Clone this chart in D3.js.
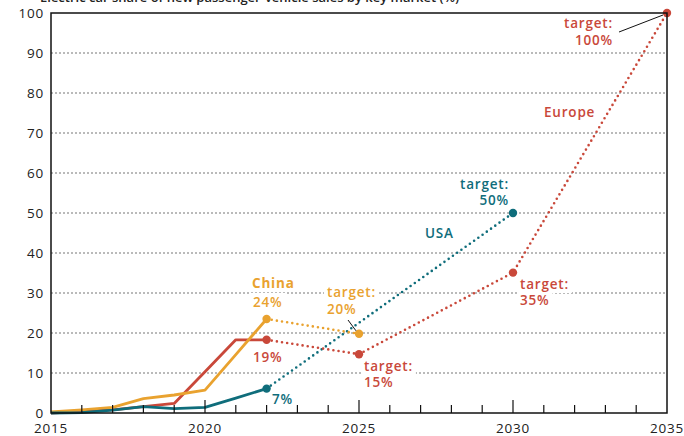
<!DOCTYPE html>
<html>
<head>
<meta charset="utf-8">
<script src="https://d3js.org/d3.v7.min.js"></script>
<style>
    body { margin: 0; background: #fff; }
    svg { display: block; font-family: 'Open Sans', sans-serif; }
</style>
</head>
<body>
<div id="chart"></div>
<script>
// actual sales shares, 2015-2022
var years  = [2015, 2016, 2017, 2018, 2019, 2020, 2021, 2022];
var china  = [0.3, 0.8, 1.4, 3.6, 4.5, 5.7, 14.6, 23.5];
var europe = [0, 0.4, 0.8, 1.6, 2.4, 10.3, 18.3, 18.3];
var usa    = [0, 0.1, 0.7, 1.6, 1.1, 1.4, 3.7, 6.1];

// targets (dotted)
var chinaTargetYears  = [2022, 2025];
var chinaTargetVals   = [23.5, 19.8];
var europeTargetYears = [2022, 2025, 2030, 2035];
var europeTargetVals  = [18.3, 14.7, 35.1, 100];
var usaTargetYears    = [2022, 2030];
var usaTargetVals     = [6.1, 50];

var yTicks = [0, 10, 20, 30, 40, 50, 60, 70, 80, 90, 100];
var xTicks = [2015, 2020, 2025, 2030, 2035];

var colors = { china: "#e9a22f", europe: "#c9483a", usa: "#0f6d7b" };

var width = 684, height = 436;
var svg = d3.select("#chart").append("svg")
    .attr("width", width)
    .attr("height", height);

var x = d3.scaleLinear().domain([2015, 2035]).range([51, 667]);
var y = d3.scaleLinear().domain([0, 100]).range([413, 13]);

//title (cut off at the top)
svg.append("text")
    .attr("x", 40)
    .attr("y", 1.5)
    .style("font-size", "13px")
    .style("font-weight", 600)
    .style("fill", "#222")
    .text("Electric car share of new passenger-vehicle sales by key market (%)");

//gridlines
svg.selectAll(".grid")
    .data(yTicks.filter(function(d) { return d > 0 && d < 100; }))
    .enter().append("line")
    .attr("x1", x(2015)).attr("x2", x(2035))
    .attr("y1", function(d) { return y(d); })
    .attr("y2", function(d) { return y(d); })
    .style("stroke", "#777")
    .style("stroke-width", 1.2)
    .style("stroke-dasharray", "2,2");

//y labels
svg.selectAll(".ylab")
    .data(yTicks)
    .enter().append("text")
    .attr("x", 44)
    .attr("y", function(d) { return y(d) + 5; })
    .attr("text-anchor", "end")
    .style("font-size", "13.5px")
    .style("letter-spacing", "0.8px")
    .style("fill", "#222")
    .text(function(d) { return d; });

//x labels
svg.selectAll(".xlab")
    .data(xTicks)
    .enter().append("text")
    .attr("x", function(d) { return x(d); })
    .attr("y", 433)
    .attr("text-anchor", "middle")
    .style("font-size", "13.5px")
    .style("letter-spacing", "0.8px")
    .style("fill", "#222")
    .text(function(d) { return d; });

//labels: [text, color, x, y, anchor, weight]
var labels = [
    ["China", colors.china, 252, 288, "start", 700],
    ["24%", colors.china, 253, 307, "start", 600],
    ["target:", colors.china, 327, 297, "start", 600],
    ["20%", colors.china, 327, 314, "start", 600],
    ["19%", colors.europe, 253, 362, "start", 600],
    ["target:", colors.europe, 364, 371, "start", 600],
    ["15%", colors.europe, 364, 387, "start", 600],
    ["7%", colors.usa, 272, 404, "start", 600],
    ["USA", colors.usa, 425, 238, "start", 600],
    ["target:", colors.usa, 509, 189, "end", 600],
    ["50%", colors.usa, 509, 205, "end", 600],
    ["target:", colors.europe, 520, 289, "start", 600],
    ["35%", colors.europe, 520, 305, "start", 600],
    ["Europe", colors.europe, 544, 117, "start", 600],
    ["target:", colors.europe, 613, 28, "end", 600],
    ["100%", colors.europe, 613, 45, "end", 600]
];

var labelG = svg.append("g");
var bgG = svg.append("g");
var lineG = svg.append("g");

var texts = labelG.selectAll("text")
    .data(labels)
    .enter().append("text")
    .attr("x", function(d) { return d[2]; })
    .attr("y", function(d) { return d[3]; })
    .attr("text-anchor", function(d) { return d[4]; })
    .style("font-size", "13.5px")
    .style("font-weight", function(d) { return d[5]; })
    .style("letter-spacing", "0.8px")
    .style("fill", function(d) { return d[1]; })
    .text(function(d) { return d[0]; });

// white boxes behind labels, cut the gridlines
texts.each(function() {
    var b = this.getBBox();
    bgG.append("rect")
        .attr("x", b.x - 3).attr("y", b.y)
        .attr("width", b.width + 6).attr("height", b.height)
        .style("fill", "#fff");
});
labelG.raise();

//axes frame
svg.append("rect")
    .attr("x", x(2015)).attr("y", y(100))
    .attr("width", x(2035) - x(2015)).attr("height", y(0) - y(100))
    .style("fill", "none")
    .style("stroke", "#111")
    .style("stroke-width", 1.5);

//x ticks pointing up
svg.selectAll(".xtick")
    .data(d3.range(2016, 2035))
    .enter().append("line")
    .attr("x1", function(d) { return x(d); })
    .attr("x2", function(d) { return x(d); })
    .attr("y1", y(0))
    .attr("y2", function(d) { return d % 5 == 0 ? y(0) - 13 : y(0) - 8; })
    .style("stroke", "#111")
    .style("stroke-width", 1.2);

//leader lines
svg.append("line")
    .attr("x1", 348).attr("y1", 320).attr("x2", x(2025) - 3).attr("y2", y(19.8) - 3)
    .style("stroke", "#111").style("stroke-width", 1);
svg.append("line")
    .attr("x1", 619).attr("y1", 32).attr("x2", x(2035) - 4).attr("y2", y(100) + 2)
    .style("stroke", "#111").style("stroke-width", 1);

var line = d3.line()
    .x(function(d) { return x(d[0]); })
    .y(function(d) { return y(d[1]); });

function drawTarget(yrs, vals, color) {
    var pts = d3.zip(yrs, vals);
    lineG.append("path")
        .datum(pts)
        .attr("d", line)
        .style("fill", "none")
        .style("stroke", color)
        .style("stroke-width", 2.6)
        .style("stroke-linecap", "round")
        .style("stroke-dasharray", "0,5.2");
    lineG.selectAll(null)
        .data(pts)
        .enter().append("circle")
        .attr("cx", function(d) { return x(d[0]); })
        .attr("cy", function(d) { return y(d[1]); })
        .attr("r", 4.2)
        .style("fill", color);
}

function drawActual(vals, color) {
    lineG.append("path")
        .datum(d3.zip(years, vals))
        .attr("d", line)
        .style("fill", "none")
        .style("stroke", color)
        .style("stroke-width", 2.8)
        .style("stroke-linejoin", "round");
}

drawTarget(usaTargetYears, usaTargetVals, colors.usa);
drawTarget(europeTargetYears, europeTargetVals, colors.europe);
drawTarget(chinaTargetYears, chinaTargetVals, colors.china);
drawActual(europe, colors.europe);
drawActual(china, colors.china);
drawActual(usa, colors.usa);
</script>
</body>
</html>
